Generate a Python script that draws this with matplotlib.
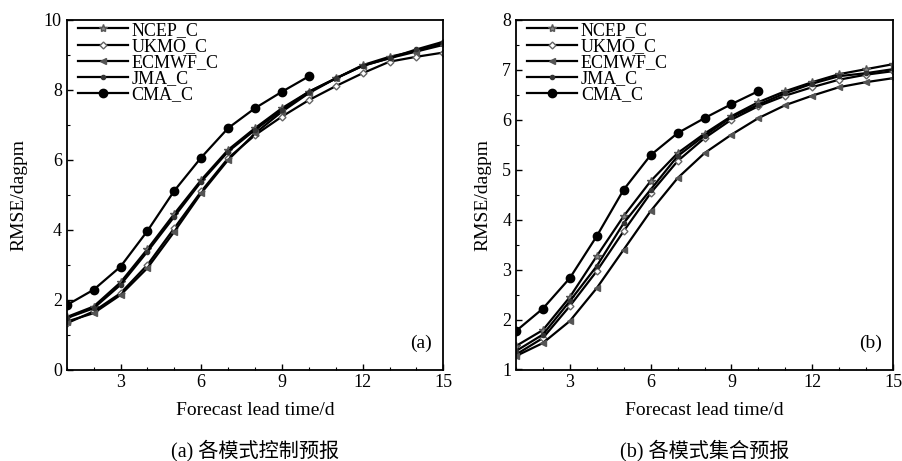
import numpy as np
import matplotlib
matplotlib.use('Agg')
import matplotlib.pyplot as plt
from matplotlib.ticker import MultipleLocator

plt.rcParams['font.family'] = ['Liberation Serif', 'Noto Sans CJK SC']

days = np.arange(1, 16)
days_cma = np.arange(1, 11)
labels = ['NCEP_C', 'UKMO_C', 'ECMWF_C', 'JMA_C', 'CMA_C']

# (a) control forecasts
ncep_a = [1.50, 1.80, 2.49, 3.44, 4.45, 5.42, 6.28, 6.90, 7.47, 7.94, 8.32, 8.70, 8.94, 9.11, 9.32]
ukmo_a = [1.32, 1.66, 2.18, 2.99, 4.04, 5.09, 6.04, 6.70, 7.23, 7.70, 8.10, 8.47, 8.80, 8.94, 9.06]
ecmwf_a = [1.37, 1.61, 2.13, 2.90, 3.94, 5.04, 5.99, 6.75, 7.37, 7.90, 8.32, 8.68, 8.90, 9.09, 9.28]
jma_a = [1.47, 1.75, 2.42, 3.37, 4.37, 5.37, 6.23, 6.85, 7.42, 7.94, 8.32, 8.68, 8.90, 9.15, 9.37]
cma_a = [1.84, 2.28, 2.94, 3.96, 5.11, 6.06, 6.90, 7.47, 7.94, 8.38]

# (b) ensemble forecasts
ncep_b = [1.47, 1.79, 2.45, 3.27, 4.07, 4.77, 5.33, 5.72, 6.07, 6.35, 6.57, 6.75, 6.91, 7.01, 7.11]
ukmo_b = [1.30, 1.63, 2.27, 2.97, 3.77, 4.53, 5.17, 5.63, 6.00, 6.27, 6.48, 6.65, 6.80, 6.90, 6.97]
ecmwf_b = [1.27, 1.53, 1.97, 2.63, 3.40, 4.17, 4.83, 5.33, 5.70, 6.03, 6.29, 6.48, 6.65, 6.75, 6.83]
jma_b = [1.37, 1.70, 2.37, 3.07, 3.93, 4.60, 5.27, 5.68, 6.05, 6.30, 6.53, 6.72, 6.87, 6.93, 7.01]
cma_b = [1.77, 2.22, 2.83, 3.67, 4.60, 5.29, 5.73, 6.03, 6.31, 6.57]

fig = plt.figure(figsize=(9.02, 4.61), dpi=100)
ax1 = fig.add_axes([66.7 / 902, 1 - 369.5 / 461, 376.6 / 902, 349.8 / 461])
ax2 = fig.add_axes([516 / 902, 1 - 369.5 / 461, 377 / 902, 349.8 / 461])


def draw(ax, series, cma, ylim, ymaj, ymin, tag, caption, ypad):
    styles = [dict(marker='*', ms=6, color='black', mfc='#888888', mec='#555555'),
              dict(marker='D', ms=3.5, color='black', mfc='white', mec='#666666'),
              dict(marker='<', ms=5, color='black', mfc='#555555', mec='#555555'),
              dict(marker='o', ms=3, color='black', mfc='#333333', mec='#333333')]
    for y, lab, st in zip(series, labels[:4], styles):
        ax.plot(days, y, lw=1.6, label=lab, **st)
    ax.plot(days_cma, cma, lw=1.6, color='black', marker='o', ms=6, label=labels[4])
    ax.set_xlim(1, 15)
    ax.set_ylim(*ylim)
    ax.xaxis.set_major_locator(MultipleLocator(3))
    ax.xaxis.set_minor_locator(MultipleLocator(1))
    ax.yaxis.set_major_locator(MultipleLocator(ymaj))
    ax.yaxis.set_minor_locator(MultipleLocator(ymin))
    ax.set_xticks([3, 6, 9, 12, 15])
    ax.tick_params(which='both', direction='in', top=False, right=False, labelsize=13)
    ax.tick_params(which='major', length=4, width=1)
    ax.tick_params(which='minor', length=2.5, width=0.8)
    for s in ax.spines.values():
        s.set_linewidth(1.3)
    ax.set_xlabel('Forecast lead time/d', fontsize=14, labelpad=8)
    ax.set_ylabel('RMSE/dagpm', fontsize=14, labelpad=ypad)
    ax.text(0.97, 0.05, tag, transform=ax.transAxes, ha='right', va='bottom', fontsize=14)
    ax.text(0.5, -0.2, caption, transform=ax.transAxes, ha='center', va='top', fontsize=14.5)
    ax.legend(loc='upper left', frameon=False, fontsize=13, handlelength=2.8,
              handletextpad=0.2, labelspacing=-0.05, borderaxespad=0.2,
              bbox_to_anchor=(0.0, 1.025))


draw(ax1, [ncep_a, ukmo_a, ecmwf_a, jma_a], cma_a, (0, 10), 2, 1, '(a)', '(a) 各模式控制预报', 12)
draw(ax2, [ncep_b, ukmo_b, ecmwf_b, jma_b], cma_b, (1, 8), 1, 0.5, '(b)', '(b) 各模式集合预报', 8)

fig.savefig('out.png', dpi=100)
